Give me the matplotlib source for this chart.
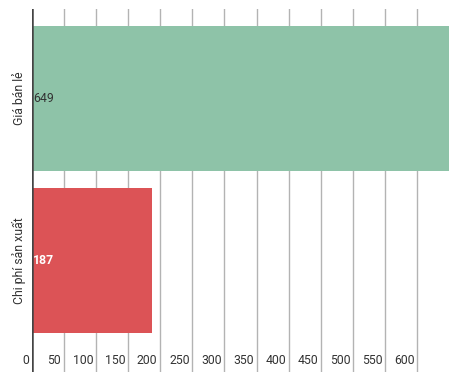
import matplotlib.pyplot as plt
import matplotlib.transforms as mtransforms

plt.rcParams['font.family'] = ['Roboto', 'DejaVu Sans']

categories = ["Giá bán lẻ", "Chi phí sản xuất"]
values = [649, 187]
colors = ["#8ec3a8", "#dc5356"]
label_colors = ["#333333", "#ffffff"]
label_weights = ["normal", "bold"]
xticks = list(range(0, 650, 50))

fig = plt.figure(figsize=(4.59, 3.83), dpi=100)
# axes from x=31.5px to 449px, y=9px to 372px
ax = fig.add_axes([31.5 / 459, 11 / 383, (449 - 31.5) / 459, 363 / 383])

pos = list(range(len(categories)))
ax.barh(pos, values, height=0.9, color=colors, zorder=2)
ax.set_xlim(0, 649)
ax.set_ylim(1.688, -0.552)

for x in xticks[1:]:
    ax.axvline(x, color="#b3b3b3", lw=1, zorder=1)
ax.axvline(0, color="#444444", lw=1.8, zorder=3)

trans = mtransforms.blended_transform_factory(ax.transData, ax.transAxes)
for x in xticks:
    ax.text(x - 4, 0.033, str(x), transform=trans, ha="right", va="center",
            fontsize=8.8, color="#333333")

for p, v, c, w in zip(pos, values, label_colors, label_weights):
    ax.text(3, p, str(v), ha="left", va="center", fontsize=8.8, color=c,
            fontweight=w, zorder=4)

ax.set_xticks([])
ax.set_yticks(pos)
ax.set_yticklabels(categories, rotation=90, va="center", fontsize=8.8, color="#333333")
ax.tick_params(axis="y", length=0, pad=4)
for s in ax.spines.values():
    s.set_visible(False)

fig.savefig("out.png", dpi=100)
